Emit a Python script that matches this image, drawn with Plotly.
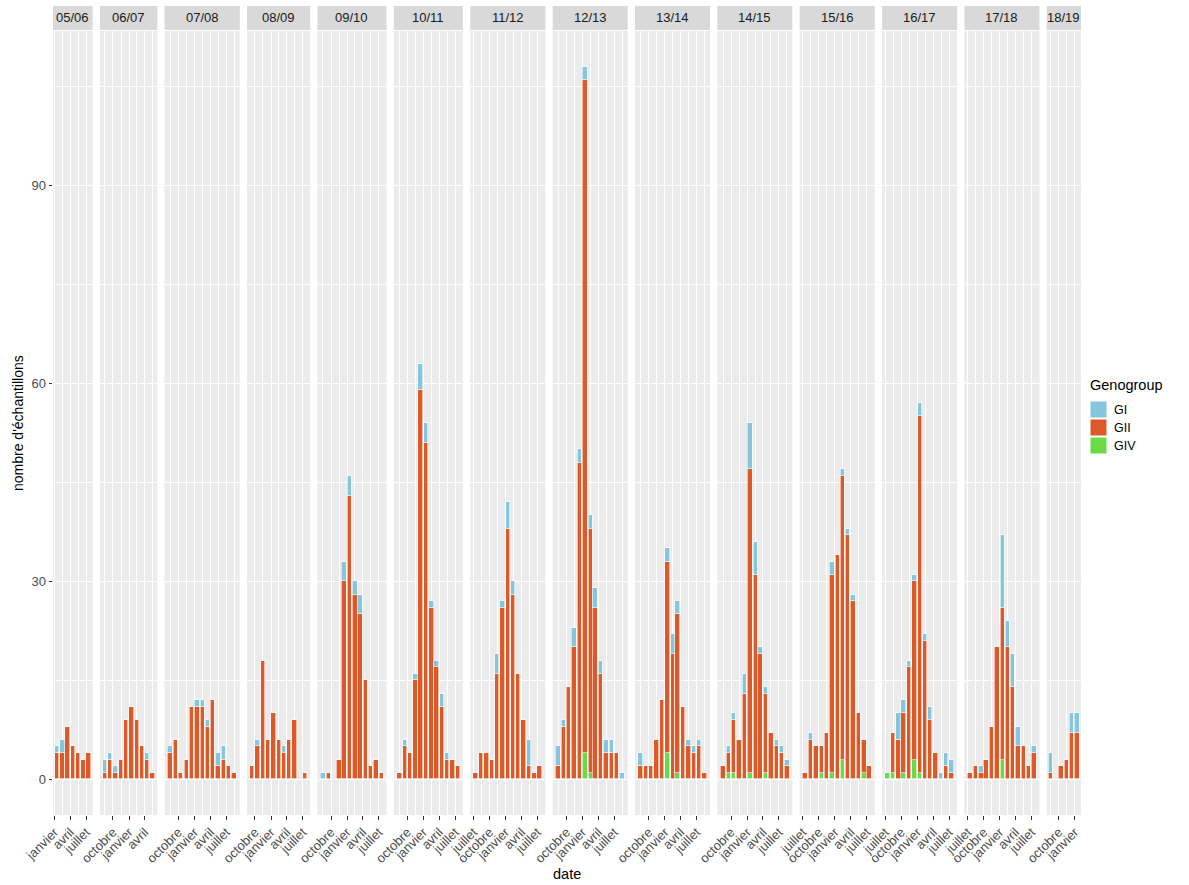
import plotly.graph_objects as go
from datetime import datetime, timedelta

# Seasons (one facet each) and the month of the first bar in each facet
SEASONS = ["05/06", "06/07", "07/08", "08/09", "09/10", "10/11", "11/12",
           "12/13", "13/14", "14/15", "15/16", "16/17", "17/18", "18/19"]
FIRST_MONTH = ["2006-01", "2006-08", "2007-08", "2008-09", "2009-08", "2010-08", "2011-07",
               "2012-08", "2013-08", "2014-08", "2015-07", "2016-07", "2017-07", "2018-08"]

# Monthly sample counts per genogroup, one list per season
GI = [
    [1, 2, 0, 0, 0, 0, 0],
    [2, 1, 1, 0, 0, 0, 0, 0, 1, 0],
    [1, 0, 0, 0, 0, 1, 1, 1, 0, 2, 2, 0, 0],
    [0, 1, 0, 0, 0, 0, 1, 0, 0, 0, 0],
    [1, 0, 0, 0, 3, 3, 2, 3, 0, 0, 0, 0],
    [0, 1, 0, 1, 4, 3, 1, 1, 2, 1, 0, 0],
    [0, 0, 0, 0, 3, 1, 4, 2, 0, 0, 4, 0, 0],
    [3, 1, 0, 3, 2, 2, 2, 3, 2, 2, 2, 0, 1],
    [2, 0, 0, 0, 0, 2, 3, 2, 0, 1, 1, 1, 0],
    [0, 1, 1, 0, 3, 7, 5, 1, 1, 0, 1, 1, 1],
    [0, 1, 0, 0, 0, 2, 0, 1, 1, 1, 0, 0, 0],
    [0, 0, 4, 2, 1, 1, 2, 1, 2, 0, 1, 2, 2],
    [0, 0, 1, 0, 0, 0, 11, 4, 5, 3, 0, 0, 1],
    [3, 0, 0, 0, 3, 3],
]
GII = [
    [4, 4, 8, 5, 4, 3, 4],
    [1, 3, 1, 3, 9, 11, 9, 5, 3, 1],
    [4, 6, 1, 3, 11, 11, 11, 8, 12, 2, 3, 2, 1],
    [2, 5, 18, 6, 10, 6, 4, 6, 9, 0, 1],
    [0, 1, 0, 3, 30, 43, 28, 25, 15, 2, 3, 1],
    [1, 5, 4, 15, 59, 51, 26, 17, 11, 3, 3, 2],
    [1, 4, 4, 3, 16, 26, 38, 28, 16, 9, 2, 1, 2],
    [2, 8, 14, 20, 48, 102, 37, 26, 16, 4, 4, 4, 0],
    [2, 2, 2, 6, 12, 29, 19, 24, 11, 5, 4, 5, 1],
    [2, 3, 8, 6, 13, 46, 31, 19, 12, 7, 5, 4, 2],
    [1, 6, 5, 4, 7, 30, 34, 43, 37, 27, 10, 5, 2],
    [0, 6, 6, 9, 17, 27, 54, 21, 9, 4, 0, 2, 1],
    [1, 2, 1, 3, 8, 20, 23, 20, 14, 5, 5, 2, 4],
    [1, 0, 2, 3, 7, 7],
]
GIV = [
    [0, 0, 0, 0, 0, 0, 0],
    [0, 0, 0, 0, 0, 0, 0, 0, 0, 0],
    [0, 0, 0, 0, 0, 0, 0, 0, 0, 0, 0, 0, 0],
    [0, 0, 0, 0, 0, 0, 0, 0, 0, 0, 0],
    [0, 0, 0, 0, 0, 0, 0, 0, 0, 0, 0, 0],
    [0, 0, 0, 0, 0, 0, 0, 0, 0, 0, 0, 0],
    [0, 0, 0, 0, 0, 0, 0, 0, 0, 0, 0, 0, 0],
    [0, 0, 0, 0, 0, 4, 1, 0, 0, 0, 0, 0, 0],
    [0, 0, 0, 0, 0, 4, 0, 1, 0, 0, 0, 0, 0],
    [0, 1, 1, 0, 0, 1, 0, 0, 1, 0, 0, 0, 0],
    [0, 0, 0, 1, 0, 1, 0, 3, 0, 0, 0, 1, 0],
    [1, 1, 0, 1, 0, 3, 1, 0, 0, 0, 0, 0, 0],
    [0, 0, 0, 0, 0, 0, 3, 0, 0, 0, 0, 0, 0],
    [0, 0, 0, 0, 0, 0],
]

GROUPS = ["GI", "GII", "GIV"]
COLORS = {"GI": "#86C5DE", "GII": "#DD5A28", "GIV": "#6ADB48"}
MONTH_NAMES = {1: "janvier", 4: "avril", 7: "juillet", 10: "octobre"}

Y_BREAKS = [0, 30, 60, 90]
Y_MINOR = [15, 45, 75, 105]

W, H = 1189, 885
ML, MR, MT, MB = 53, 108, 31, 70
PANEL_GAP = 7.3
BAR_DAYS = 25.2
FONT = "Liberation Sans, Arial, sans-serif"
TXT = "#4D4D4D"


def month_centres(first, n):
    y, m = map(int, first.split("-"))
    out = []
    for _ in range(n):
        out.append(datetime(y, m, 15))
        m += 1
        if m > 12:
            m, y = 1, y + 1
    return out


def quarter_starts(lo, hi):
    out = []
    for y in range(lo.year - 1, hi.year + 2):
        for m in (1, 4, 7, 10):
            out.append(datetime(y, m, 1))
    return out


fig = go.Figure()

ranges = []
for s, first in enumerate(FIRST_MONTH):
    xs = month_centres(first, len(GII[s]))
    half = timedelta(days=BAR_DAYS / 2)
    lo, hi = xs[0] - half, xs[-1] + half
    pad = (hi - lo) * 0.05
    ranges.append((lo - pad, hi + pad))

spans = [(hi - lo).total_seconds() for lo, hi in ranges]
plot_w = W - ML - MR
plot_h = H - MT - MB
px_per_sec = (plot_w - PANEL_GAP * (len(SEASONS) - 1)) / sum(spans)

layout = {}
x_left = 0.0
for s, season in enumerate(SEASONS):
    lo, hi = ranges[s]
    width_px = spans[s] * px_per_sec
    d0 = x_left / plot_w
    d1 = (x_left + width_px) / plot_w
    x_left += width_px + PANEL_GAP

    xs = month_centres(FIRST_MONTH[s], len(GII[s]))
    xname = "x" if s == 0 else f"x{s + 1}"
    yname = "y" if s == 0 else f"y{s + 1}"

    # stacked from the bottom: GIV, then GII, then GI on top
    for grp, vals in (("GIV", GIV[s]), ("GII", GII[s]), ("GI", GI[s])):
        fig.add_trace(go.Bar(
            x=xs, y=[v if v else None for v in vals], name=grp,
            xaxis=xname, yaxis=yname,
            width=BAR_DAYS * 86400000,
            marker=dict(color=COLORS[grp], line=dict(color="white", width=0.6)),
            showlegend=False,
        ))

    qs = quarter_starts(lo, hi)
    majors = [q for q in qs if lo <= q <= hi]
    minors = [qs[i] + (qs[i + 1] - qs[i]) / 2 for i in range(len(qs) - 1)]
    minors = [m for m in minors if lo <= m <= hi]

    layout["xaxis" if s == 0 else f"xaxis{s + 1}"] = dict(
        type="date", domain=[d0, d1], range=[lo, hi], anchor=yname,
        tickmode="array", tickvals=majors, ticktext=[MONTH_NAMES[q.month] for q in majors],
        tickangle=-45, ticks="outside", ticklen=3.5, tickwidth=1, tickcolor="#333333",
        tickfont=dict(family=FONT, size=13, color=TXT),
        showgrid=True, gridcolor="white", gridwidth=1.1, zeroline=False, showline=False,
        minor=dict(tickvals=minors, showgrid=True, gridcolor="white", gridwidth=0.55, ticks=""),
        fixedrange=True,
    )
    ycfg = dict(
        range=[-5.4, 113.4], anchor=xname, domain=[0, 1],
        tickmode="array", tickvals=Y_BREAKS,
        showgrid=True, gridcolor="white", gridwidth=1.1, zeroline=False, showline=False,
        minor=dict(tickvals=Y_MINOR, showgrid=True, gridcolor="white", gridwidth=0.55, ticks=""),
        fixedrange=True,
    )
    if s == 0:
        ycfg.update(ticks="outside", ticklen=3.5, tickwidth=1, tickcolor="#333333",
                    tickfont=dict(family=FONT, size=13, color=TXT))
        layout["yaxis"] = ycfg
    else:
        ycfg.update(matches="y", showticklabels=False, ticks="")
        layout[f"yaxis{s + 1}"] = ycfg

    # facet strip
    fig.add_shape(type="rect", xref="paper", yref="paper",
                  x0=d0, x1=d1, y0=1 + 1 / plot_h, y1=1 + 25 / plot_h,
                  fillcolor="#D9D9D9", line=dict(width=0), layer="below")
    fig.add_annotation(x=(d0 + d1) / 2, y=1 + 13 / plot_h, xref="paper", yref="paper",
                       text=season, showarrow=False,
                       font=dict(family=FONT, size=13, color="#1A1A1A"),
                       xanchor="center", yanchor="middle")

# axis titles
fig.add_annotation(x=0.5, y=-(MB - 1) / plot_h, xref="paper", yref="paper",
                   text="date", showarrow=False, font=dict(family=FONT, size=14.5, color="black"),
                   xanchor="center", yanchor="bottom")
fig.add_annotation(x=-(ML - 18) / plot_w, y=0.5, xref="paper", yref="paper",
                   text="nombre d'échantillons", showarrow=False, textangle=-90,
                   font=dict(family=FONT, size=14, color="black"),
                   xanchor="center", yanchor="middle")

# legend
lx = (1090 - ML) / plot_w
fig.add_annotation(x=(1088 - ML) / plot_w, y=(H - MB - 385) / plot_h, xref="paper", yref="paper",
                   text="Genogroup", showarrow=False, font=dict(family=FONT, size=14.5, color="black"),
                   xanchor="left", yanchor="middle")
for k, grp in enumerate(GROUPS):
    top = 401 + k * 18
    fig.add_shape(type="rect", xref="paper", yref="paper",
                  x0=lx, x1=lx + 17 / plot_w,
                  y0=(H - MB - (top + 17)) / plot_h, y1=(H - MB - top) / plot_h,
                  fillcolor=COLORS[grp], line=dict(color="white", width=1))
    fig.add_annotation(x=(1112 - ML) / plot_w, y=(H - MB - (top + 8.5)) / plot_h,
                       xref="paper", yref="paper", text=grp, showarrow=False,
                       font=dict(family=FONT, size=12.5, color="black"),
                       xanchor="left", yanchor="middle")

fig.update_layout(
    width=W, height=H,
    margin=dict(l=ML, r=MR, t=MT, b=MB),
    barmode="stack", bargap=0,
    paper_bgcolor="white", plot_bgcolor="#EBEBEB",
    showlegend=False,
    **layout,
)

fig.write_html("out.html")
